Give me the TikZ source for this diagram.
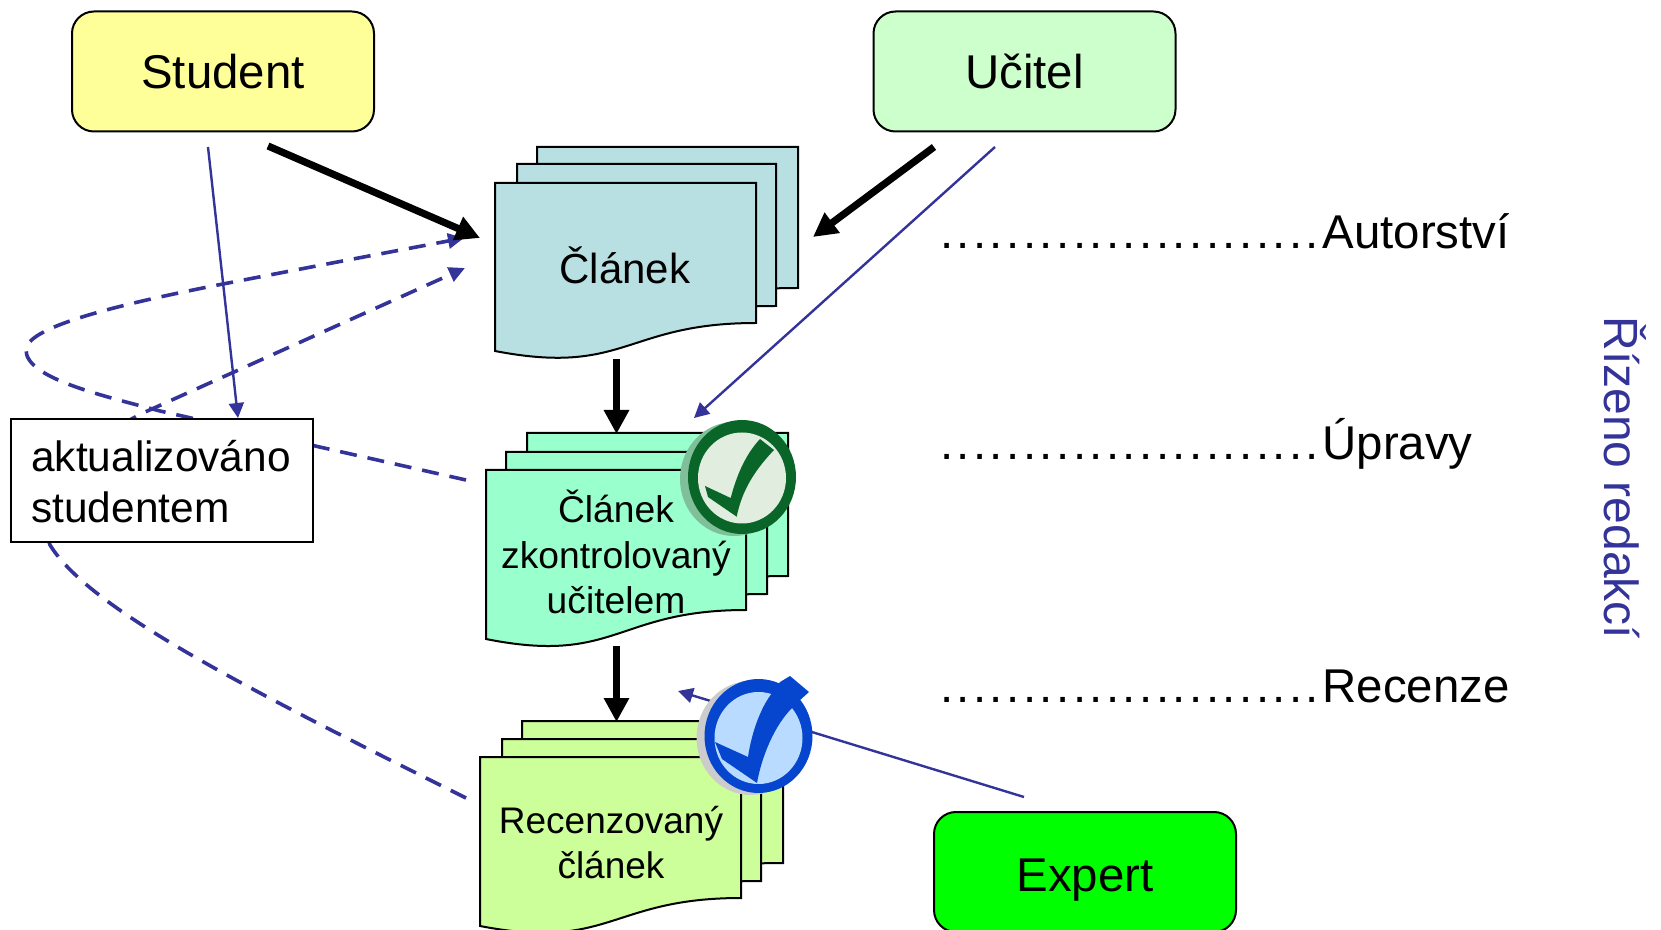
\documentclass[tikz,border=0pt]{standalone}
\usepackage{fontspec}
\setmainfont{Liberation Sans}
\usetikzlibrary{arrows.meta}
\definecolor{navy}{HTML}{333399}
\definecolor{docA}{HTML}{B8E0E2}
\definecolor{docB}{HTML}{99FFCC}
\definecolor{docC}{HTML}{CCFF99}
\definecolor{gbadge}{HTML}{0A6628}
\definecolor{gbadgel}{HTML}{E0EDDF}
\definecolor{gshadow}{HTML}{7FC09B}
\definecolor{bbadge}{HTML}{0645CE}
\definecolor{bbadgel}{HTML}{B8DBFF}
\newcommand{\docsheet}[6]{% left right top yRightBottom yLeftBottom fill
  \pgfmathsetmacro{\midx}{(#1+#2)/2}
  \pgfmathsetmacro{\ctly}{#4+1.9*(#5-#4)}
  \draw[sheet,fill=#6] (#1,#3) -- (#2,#3) -- (#2,#4) .. controls (\midx,#4) and (\midx,\ctly) .. (#1,#5) -- cycle;
}
\newcommand{\dotrun}{\hbox to 191.5pt{\xleaders\hbox to 8pt{.\hss}\hfill}}
\tikzset{
  role/.style={draw=black,line width=1pt,rounded corners=11pt,minimum width=151pt,minimum height=60pt,inner sep=0pt,font=\fontsize{23.7}{28}\selectfont},
  sheet/.style={draw=black,line width=1pt},
  sheetlabel/.style={align=center,inner sep=0pt},
  heavy/.style={draw=black,line width=3.6pt,-{Triangle[length=12pt,width=12pt]}},
  thin/.style={draw=navy,line width=1.2pt,-{Triangle[length=7.5pt,width=7.5pt]}},
  loopline/.style={draw=navy,line width=1.8pt,dash pattern=on 8.5pt off 5.5pt,-{Triangle[length=8pt,width=7.5pt]}},
  sidelabel/.style={anchor=base west,inner sep=0pt,font=\fontsize{23.7}{28}\selectfont},
}
\begin{document}
\begin{tikzpicture}[x=0.5pt,y=-0.5pt]
\useasboundingbox (0,0) rectangle (1661,930);
% free ends
\coordinate (s1) at (268,146); \coordinate (s1e) at (480,238);
\coordinate (s2) at (208,147); \coordinate (s2e) at (238,418);
\coordinate (u1) at (934,147); \coordinate (u1e) at (813,237);
\coordinate (u2) at (995,147); \coordinate (u2e) at (694,418);
\coordinate (v1) at (616.5,359); \coordinate (v1e) at (616.5,434);
\coordinate (v2) at (616.5,646); \coordinate (v2e) at (616.5,722);
\coordinate (x1) at (1024,797); \coordinate (x1e) at (678,691);
\coordinate (d1) at (466,480); \coordinate (d1a) at (160,411); \coordinate (d1b) at (26,350); \coordinate (d1c) at (223,284); \coordinate (d1e) at (464,238);
\coordinate (d2) at (466,798); \coordinate (d2a) at (50,545); \coordinate (d2b) at (143,413); \coordinate (d2e) at (465,268);
% documents
\docsheet{537}{798}{147}{288}{306}{docA}
\docsheet{517}{776}{164}{306}{324}{docA}
\docsheet{495}{756}{183}{323}{351}{docA}
\node[sheetlabel,font=\fontsize{21}{25}\selectfont] (clanek) at (625,265) {Článek};
\docsheet{527}{788}{433}{576}{594}{docB}
\docsheet{506}{767}{452}{594}{612}{docB}
\docsheet{486}{746}{470}{610}{639}{docB}
\node[sheetlabel,font=\fontsize{18.6}{22.6}\selectfont] (kontrola) at (616,552) {Článek\\zkontrolovaný\\učitelem};
\docsheet{522}{783}{721}{863}{881}{docC}
\docsheet{502}{761}{739}{881}{899}{docC}
\docsheet{480}{741}{757}{898}{926}{docC}
\node[sheetlabel,font=\fontsize{18.5}{22.5}\selectfont] (recenze) at (611,843) {Recenzovaný\\článek};
% dashed
\draw[loopline] (d1) -- (d1a) .. controls (100,395) and (26,378) .. (d1b) .. controls (26,328) and (110,306) .. (d1c) .. controls (300,269) and (390,252) .. (d1e);
\draw[loopline] (d2) .. controls (250,690) and (90,610) .. (d2a) .. controls (30,490) and (70,450) .. (d2b) -- (d2e);
% roles
\node[role,fill={rgb,255:red,255;green,255;blue,153}] (student) at (223,71.5) {Student};
\node[role,fill={rgb,255:red,204;green,255;blue,204}] (ucitel) at (1024.5,71.5) {Učitel};
\node[role,fill={rgb,255:red,0;green,255;blue,0}] (expert) at (1085,872) {};
\node[inner sep=0pt,font=\fontsize{23.7}{28}\selectfont] (expertt) at (1085,880) {Expert};
\node[draw=black,line width=1pt,fill=white,minimum width=151pt,minimum height=61.5pt,inner sep=0pt] (aktual) at (162,480.5) {};
\node[anchor=base west,inner sep=0pt,font=\fontsize{21.2}{25.5}\selectfont,align=left] (aktualt) at (31,523) {aktualizováno\\studentem};
% connectors
\draw[heavy] (s1) -- (s1e);
\draw[heavy] (u1) -- (u1e);
\draw[heavy,line width=3.2pt] (v1) -- (v1e);
\draw[heavy,line width=3.2pt] (v2) -- (v2e);
\draw[thin] (s2) -- (s2e);
\draw[thin] (u2) -- (u2e);
\draw[thin] (x1) -- (x1e);
% green badge
\fill[gshadow] (734,479) ellipse [x radius=54,y radius=57];
\fill[gbadge] (742,477) ellipse [x radius=54,y radius=57];
\fill[gbadgel] (742,478) ellipse [x radius=44,y radius=45.5];
\fill[gbadge] (705,486) -- (730.7,498) .. controls (738,470) and (748,452) .. (760,439) -- (774,450) .. controls (755,470) and (742,490) .. (736.7,516.7) -- (708,497) -- cycle;
% blue badge
\fill[black!20] (750.5,738) ellipse [x radius=54,y radius=57];
\fill[bbadge] (758.5,736) ellipse [x radius=54,y radius=57];
\fill[bbadgel] (758.5,738) ellipse [x radius=44,y radius=46];
\fill[bbadge] (780,682) -- (790,676) -- (809,692) -- (799,701) -- (792,708) .. controls (775,725) and (762,755) .. (757,783) -- (722,759) -- (715,742) -- (748,757) .. controls (752,730) and (762,705) .. (773,692) -- cycle;
% right labels
\node[sidelabel] (aut) at (939,249) {\dotrun Autorství};
\node[sidelabel] (upr) at (939,460) {\dotrun Úpravy};
\node[sidelabel] (rec) at (939,702) {\dotrun Recenze};
\node[anchor=base west,inner sep=0pt,rotate=-90,text=navy,font=\fontsize{24}{28}\selectfont] (rizeno) at (1604,316) {Řízeno redakcí};
\end{tikzpicture}
\end{document}
